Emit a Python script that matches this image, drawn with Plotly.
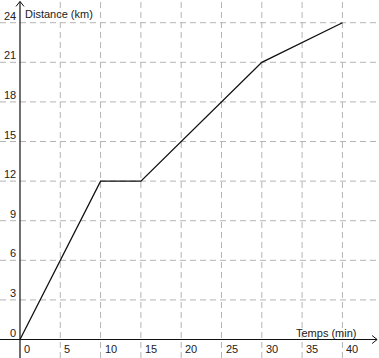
import plotly.graph_objects as go

# Data
temps = [0, 10, 15, 30, 40]
distance = [0, 12, 12, 21, 24]
x_ticks = [0, 5, 10, 15, 20, 25, 30, 35, 40]
y_ticks = [0, 3, 6, 9, 12, 15, 18, 21, 24]
x_title = "Temps (min)"
y_title = "Distance (km)"

W, H = 379, 358
XMIN, XMAX = -2.48, 44.54
YMIN, YMAX = -1.40, 25.72
FONT = dict(family="Liberation Sans, Arial, sans-serif", size=11, color="#222")
GRID = "#b4b4b4"

fig = go.Figure()
fig.add_trace(go.Scatter(x=temps, y=distance, mode="lines",
                         line=dict(color="#111", width=1.3), hoverinfo="skip"))

shapes = []
# grid lines
for xv in x_ticks[1:] + [45]:
    shapes.append(dict(type="line", xref="x", yref="paper", x0=xv, x1=xv, y0=0, y1=1,
                       line=dict(color=GRID, width=1, dash="6px,4px"), layer="below"))
for yv in y_ticks[1:]:
    shapes.append(dict(type="line", xref="paper", yref="y", x0=0, x1=1, y0=yv, y1=yv,
                       line=dict(color=GRID, width=1, dash="6px,4px"), layer="below"))
# axes
shapes.append(dict(type="line", xref="x", yref="paper", x0=0, x1=0, y0=0, y1=0.996,
                   line=dict(color="#111", width=1.2)))
shapes.append(dict(type="line", xref="paper", yref="y", x0=0, x1=0.995, y0=0, y1=0,
                   line=dict(color="#111", width=1.2)))
# arrowheads (pixel-sized, anchored to axes)
shapes.append(dict(type="path", xref="x", yref="paper", xsizemode="pixel", ysizemode="pixel",
                   xanchor=0, yanchor=0.996, path="M -4,-5 L 0,0 L 4,-5",
                   line=dict(color="#111", width=1)))
shapes.append(dict(type="path", xref="paper", yref="y", xsizemode="pixel", ysizemode="pixel",
                   xanchor=0.995, yanchor=0, path="M -5,4 L 0,0 L -5,-4",
                   line=dict(color="#111", width=1)))

annotations = []
for yv in y_ticks:
    annotations.append(dict(x=0, y=yv, xref="x", yref="y", text=str(yv), showarrow=False,
                            xanchor="right", yanchor="bottom", xshift=-2, yshift=-1, font=FONT))
for xv in x_ticks:
    annotations.append(dict(x=xv, y=0, xref="x", yref="y", text=str(xv), showarrow=False,
                            xanchor="left", yanchor="top", xshift=2, yshift=-1, font=FONT))
annotations.append(dict(x=0, y=1, xref="x", yref="paper", text=y_title, showarrow=False,
                        xanchor="left", yanchor="top", xshift=3, yshift=-6, font=FONT))
annotations.append(dict(x=1, y=0, xref="paper", yref="y", text=x_title, showarrow=False,
                        xanchor="right", yanchor="bottom", xshift=-20, yshift=-1, font=FONT))

fig.update_layout(
    width=W, height=H, margin=dict(l=0, r=0, t=0, b=0),
    paper_bgcolor="white", plot_bgcolor="white", showlegend=False,
    xaxis=dict(range=[XMIN, XMAX], showgrid=False, zeroline=False, showticklabels=False,
               ticks="", fixedrange=True),
    yaxis=dict(range=[YMIN, YMAX], showgrid=False, zeroline=False, showticklabels=False,
               ticks="", fixedrange=True),
    shapes=shapes, annotations=annotations,
)
fig.write_html("out.html", config={"displayModeBar": False})
